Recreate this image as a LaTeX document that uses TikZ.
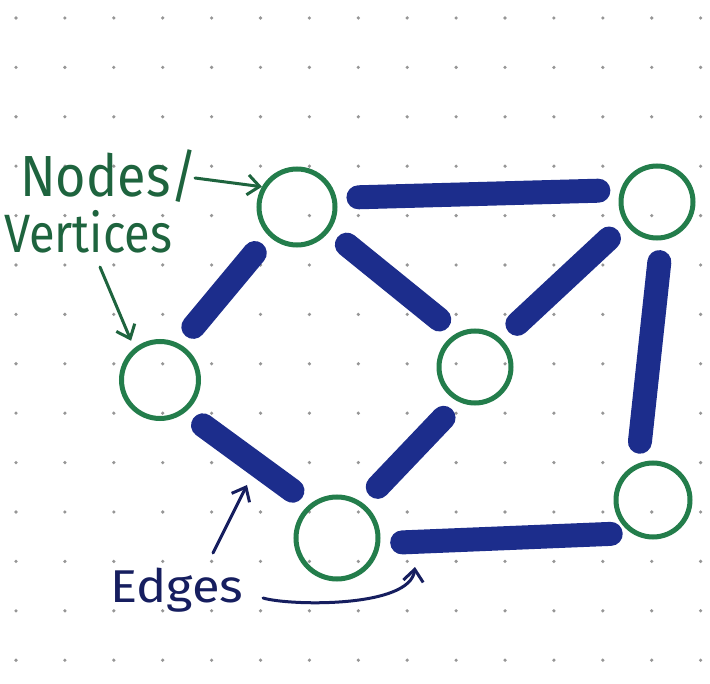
\documentclass[tikz,border=0pt]{standalone}
\usepackage{fontspec}
\setmainfont{Fira Sans}
\usetikzlibrary{arrows.meta}
\definecolor{vgreen}{RGB}{35,125,75}
\definecolor{tgreen}{RGB}{30,100,62}
\definecolor{eblue}{RGB}{28,45,140}
\definecolor{navy}{RGB}{22,30,95}
\definecolor{dotgray}{RGB}{150,150,150}
\begin{document}
\begin{tikzpicture}[x=1pt,y=-1pt,
  vertex/.style={circle,draw=vgreen,line width=5pt,inner sep=0pt},
  edge/.style={draw=eblue,line width=24pt,line cap=round,shorten <=22pt,shorten >=22pt},
  ptr/.style={-{Straight Barb[length=12pt,width=20pt,line width=3pt]},line width=3pt,line cap=round}]
\useasboundingbox (0,0) rectangle (710,684);
\fill[white] (0,0) rectangle (710,684);
\foreach \i in {0,...,14}{
  \foreach \j in {0,...,13}{
    \fill[dotgray] (16+48.9*\i, 18+49.4*\j) circle (1.8pt);
  }
}
% vertices
\node[vertex,minimum size=76pt] (A) at (297,207) {};
\node[vertex,minimum size=72pt] (B) at (657,202) {};
\node[vertex,minimum size=77pt] (C) at (160,380) {};
\node[vertex,minimum size=72pt] (D) at (475,367) {};
\node[vertex,minimum size=82pt] (E) at (337,538) {};
\node[vertex,minimum size=74pt] (F) at (653,500) {};
% edges
\draw[edge] (A.13) -- (B.162);
\draw[edge] (A.226) -- (C.62);
\draw[edge] (A.-36) -- (D.119);
\draw[edge] (B.214) -- (D.47);
\draw[edge] (B.-83) -- (F.113);
\draw[edge] (C.-52) -- (E.128);
\draw[edge] (D.245) -- (E.54);
\draw[edge,shorten >=12pt] (E.-7) -- ([yshift=-8pt]F.-140);
% labels
\node[anchor=base west,text=tgreen,inner sep=0pt,font=\fontsize{58}{58}\selectfont] (nodeslbl) at (20,197) {\scalebox{0.9}[1]{Nodes/}};
\node[anchor=base west,text=tgreen,inner sep=0pt,font=\fontsize{54}{54}\selectfont] (vertlbl) at (4,253) {\scalebox{0.87}[1]{Vertices}};
\node[anchor=base west,text=navy,inner sep=0pt,font=\fontsize{46}{46}\selectfont] (edgeslbl) at (110,602) {\scalebox{1.1}[1]{Edges}};
% pointers
\coordinate (p1) at (195,178);
\draw[ptr,tgreen] (p1) -- (A.150);
\coordinate (p2) at (100,267);
\draw[ptr,tgreen,shorten >=8pt] (p2) -- (C.129);
\coordinate (q1s) at (213,553);
\coordinate (q1t) at (247,485);
\draw[ptr,navy] (q1s) -- (q1t);
\coordinate (q2s) at (263,598);
\coordinate (q2t) at (415,567);
\draw[ptr,navy] (q2s) .. controls (290,606) and (410,608) .. (q2t);
\end{tikzpicture}
\end{document}
